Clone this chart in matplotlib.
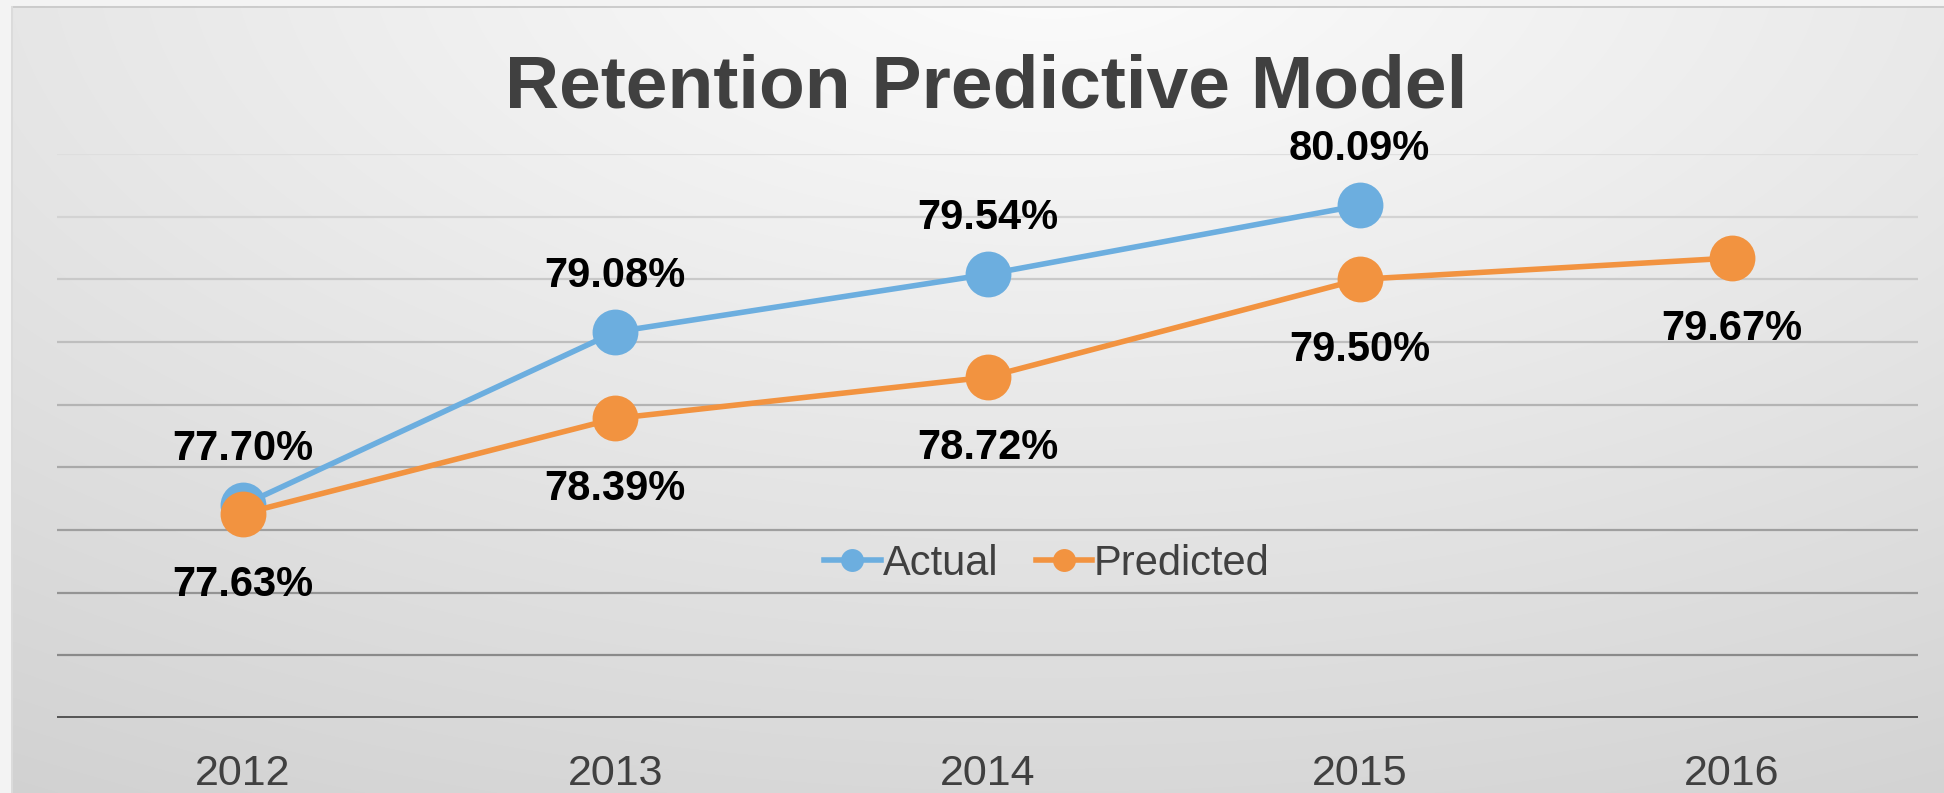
import numpy as np
import matplotlib
matplotlib.use("Agg")
import matplotlib.pyplot as plt

years = ["2012", "2013", "2014", "2015", "2016"]
actual = [77.70, 79.08, 79.54, 80.09]
predicted = [77.63, 78.39, 78.72, 79.50, 79.67]
title = "Retention Predictive Model"
series_names = ["Actual", "Predicted"]

W, H, DPI = 1944, 793, 100
plt.rcParams['font.family'] = ['Liberation Sans', 'DejaVu Sans']
fig = plt.figure(figsize=(W / DPI, H / DPI), dpi=DPI)
fig.patch.set_facecolor('#f3f3f3')

# background gradient
bg = fig.add_axes([0, 0, 1, 1], zorder=-10)
yy, xx = np.mgrid[0:H, 0:W]
d = np.sqrt((xx - 1050.0) ** 2 + (2.0 * (yy + 50.0)) ** 2)
v = np.clip(253 - 0.022 * d, 195, 253) / 255.0
img = np.dstack([v, v, v])
img[:6, :, :] = 0.953
img[:, :12, :] = 0.953
img[6:8, 12:, :] = 0.80
img[6:, 11:13, :] = 0.86
bg.imshow(img, extent=[0, W, H, 0], aspect='auto', interpolation='bilinear')
bg.set_xlim(0, W)
bg.set_ylim(H, 0)
bg.axis('off')

ax = fig.add_axes([57 / W, 75 / H, 1861 / W, 564 / H])
ax.set_facecolor('none')
x = np.arange(len(years))
ax.set_xlim(-0.5, len(years) - 0.5)
ax.set_ylim(76.0, 80.5)

grid_vals = np.arange(76.5, 80.51, 0.5)
for gv in grid_vals:
    t = (80.5 - gv) / 4.0
    c = 0.87 - t * 0.33
    ax.axhline(gv, color=(c, c, c), lw=1.6, zorder=1)
ax.axhline(76.0, color='#575757', lw=3.6, zorder=2)

blue = '#6caedf'
orange = '#f29340'
ax.plot(x[:len(actual)], actual, color=blue, lw=4, marker='o', ms=33,
        mec=blue, mew=0, zorder=3, label=series_names[0])
ax.plot(x, predicted, color=orange, lw=4, marker='o', ms=33,
        mec=orange, mew=0, zorder=4, label=series_names[1])

for xi, v_ in zip(x, actual):
    ax.annotate(f"{v_:.2f}%", (xi, v_), xytext=(0, 32.5), textcoords='offset points',
                ha='center', va='baseline', fontsize=30, fontweight='bold', color='black')
for xi, v_ in zip(x, predicted):
    ax.annotate(f"{v_:.2f}%", (xi, v_), xytext=(0, -59), textcoords='offset points',
                ha='center', va='baseline', fontsize=30, fontweight='bold', color='black')

ax.set_xticks(x)
ax.set_xticklabels(years, fontsize=31, color='#404040')
ax.tick_params(axis='x', length=0, pad=26)
ax.set_yticks([])
for s in ax.spines.values():
    s.set_visible(False)

leg = ax.legend(loc='center', bbox_to_anchor=(1047 / W, (H - 564) / H),
                bbox_transform=fig.transFigure, ncol=2, frameon=False,
                fontsize=30, handlelength=1.35, handletextpad=0.05,
                columnspacing=0.9, markerscale=0.5)
for t in leg.get_texts():
    t.set_color('#404040')

fig.text(986 / W, (H - 107) / H, title, ha='center', va='baseline',
         fontsize=54, fontweight='bold', color='#404040')

fig.savefig('out.png', dpi=DPI)
